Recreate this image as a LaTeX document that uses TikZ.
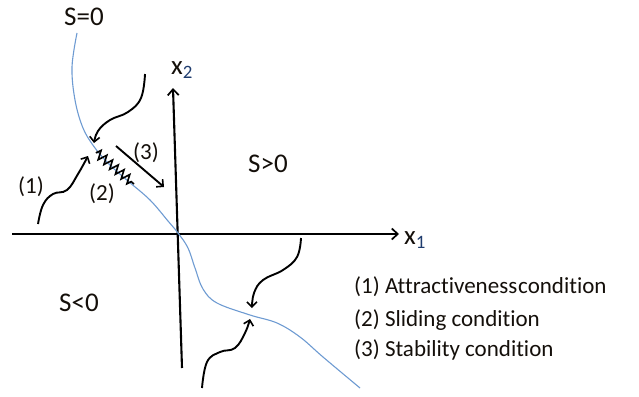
\documentclass[tikz,border=0pt]{standalone}
\usepackage{fontspec}
\setmainfont[Ligatures=NoCommon]{Carlito}
\usetikzlibrary{arrows.meta,decorations.pathmorphing}
\definecolor{curveblue}{RGB}{110,155,210}
\definecolor{subblue}{RGB}{31,60,110}
\definecolor{txt}{RGB}{20,15,10}
\tikzset{
  axis/.style={line width=2.1pt,-{Straight Barb[length=6pt,width=11pt,line width=1.7pt]}},
  wave/.style={line width=1.9pt,-{Straight Barb[length=5pt,width=10pt,line width=1.6pt]}},
  big/.style={inner sep=0pt,text=txt,font=\fontsize{27}{32}\selectfont},
  small/.style={inner sep=0pt,text=txt,font=\fontsize{23}{28}\selectfont},
}
\newcommand{\sbx}[1]{\textsubscript{\textcolor{subblue}{#1}}}
\begin{document}
\begin{tikzpicture}[x=1pt,y=-1pt]
\useasboundingbox (0,0) rectangle (639,396);
% axes
\coordinate (xs) at (12,234);
\coordinate (xe) at (399,234);
\coordinate (ys) at (182,368);
\coordinate (ye) at (173,88);
\draw[axis] (xs) -- (xe);
\draw[axis] (ys) -- (ye);
% sliding surface
\draw[curveblue,line width=1.1pt] plot[smooth,tension=0.6] coordinates{
 (77,33) (72,67) (75,100) (83,128) (95,148) (110,165) (128,181) (150,200) (168,221) (178,233)
 (188,248) (195,268) (203,289) (217,303) (250,315) (277,323) (300,337) (323,357) (360,388)};
% wavy arrows
\draw[wave] plot[smooth,tension=0.7] coordinates{(145,74) (141,98) (128,112) (110,120) (98,131) (94,143)};
\draw[wave] plot[smooth,tension=0.7] coordinates{(38,224) (43,205) (53,194) (67,190) (78,174) (88,156)};
\draw[wave] plot[smooth,tension=0.7] coordinates{(301,238) (297,257) (283,270) (263,280) (254,293) (252,308)};
\draw[wave] plot[smooth,tension=0.7] coordinates{(202,388) (207,362) (220,352) (235,348) (245,333) (250,319)};
% sliding zigzag
\coordinate (zs) at (96,152);
\coordinate (ze) at (134,184);
\draw[line width=1.6pt,decorate,decoration={zigzag,segment length=7.5pt,amplitude=4.5pt,pre length=1pt,post length=1pt}] (zs) -- (ze);
% stability arrow
\coordinate (ss) at (116,146);
\coordinate (se) at (164,187);
\draw[wave] (ss) -- (se);
% labels
\node[big] (s0) at (84,17) {S=0};
\node[big] (x2) at (182,70) {x\sbx{2}};
\node[big,anchor=west] (x1) at (404,240) {x\sbx{1}};
\node[big] (sp) at (268,164) {S>0};
\node[big] (sn) at (79,303) {S<0};
\node[small] (l1) at (31,187) {(1)};
\node[small] (l2) at (102,194) {(2)};
\node[small] (l3) at (146,153) {(3)};
\node[small,anchor=west] (c1) at (354,287) {(1) Attractiveness\hspace{1pt}condition};
\node[small,anchor=west] (c2) at (354,320) {(2) Sliding condition};
\node[small,anchor=west] (c3) at (354,350) {(3) Stability condition};
\end{tikzpicture}
\end{document}
